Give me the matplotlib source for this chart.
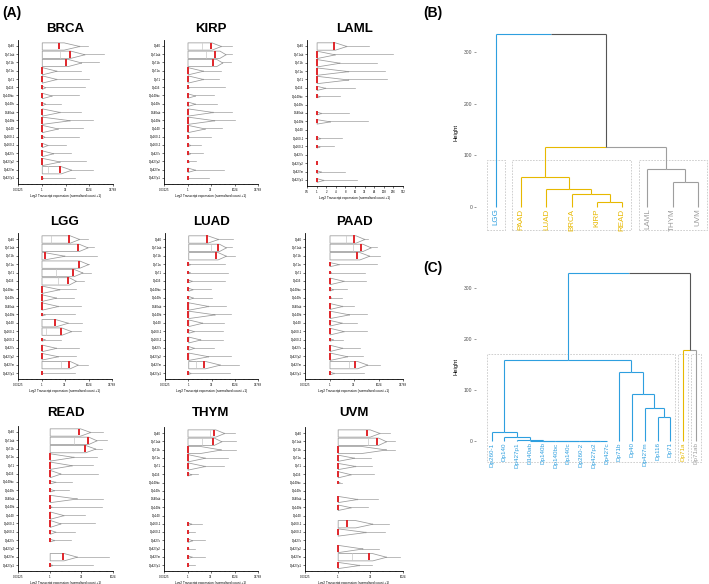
import numpy as np
import matplotlib
matplotlib.use("Agg")
import matplotlib.pyplot as plt

plt.rcParams['font.family'] = ['Liberation Sans', 'DejaVu Sans']

W_PX, H_PX = 709, 584

# ---------------- data: panel A (all values are log2 of normalised count + 1) ----------------
ISOFORMS = ["Dp40", "Dp71ab", "Dp71b", "Dp71a", "Dp71", "Dp116", "Dp140bc", "Dp140c",
            "D140ab", "Dp140b", "Dp140", "Dp260-1", "Dp260-2", "Dp427c", "Dp427p2",
            "Dp427m", "Dp427p1"]

CANCERS = ["BRCA", "KIRP", "LAML", "LGG", "LUAD", "PAAD", "READ", "THYM", "UVM"]

# median (red line)
MEDIAN = {
    "BRCA": [3.6, 5.9, 5.0, 0, 0, 0, 0, 0, 0, 0, 0, 0, 0, 0, 0, 3.9, 0],
    "KIRP": [4.9, 5.9, 5.4, 0, 0, 0, 0, 0, 0, 0, 0, 0, 0, 0, 0, 0, 0],
    "LAML": [1.8, 0, 0, 0, 0, 0, 0, 0, 0, 0, 0, 0, 0, 0, 0, 0, 0],
    "LGG":  [5.9, 7.7, 0.85, 7.9, 6.6, 5.6, 0, 0, 0, 0, 2.8, 4.1, 0, 0, 0, 5.9, 0],
    "LUAD": [4.0, 6.3, 5.9, 0, 0, 0, 0, 0, 0, 0, 0, 0, 0, 0, 0, 3.4, 0],
    "PAAD": [5.0, 6.5, 5.7, 0, 0, 0, 0, 0, 0, 0, 0, 0, 0, 0, 0, 5.3, 0],
    "READ": [4.6, 6.0, 5.5, 0, 0, 0, 0, 0, 0, 0, 0, 0, 0, 0, 0, 2.1, 0],
    "THYM": [5.7, 5.4, 0, 0, 0, 0, 0, 0, 0, 0, 0, 0, 0, 0, 0, 0, 0],
    "UVM":  [4.5, 6.0, 0, 0, 0, 0, 0, 0, 0, 0, 0, 1.45, 0, 0, 0, 4.8, 0],
}
# where the wide (boxy) part of the violin ends
BOX_END = {
    "BRCA": [4.6, 6.0, 5.4, 0, 0, 0, 0, 0, 0, 0, 0, 0, 0, 0, 0, 4.0, 0],
    "KIRP": [5.1, 6.8, 6.1, 0, 0, 0, 0, 0, 0, 0, 0, 0, 0, 0, 0, 0, 0],
    "LAML": [1.9, 0, 0, 0, 0, 0, 0, 0, 0, 0, 0, 0, 0, 0, 0, 0, 0],
    "LGG":  [6.0, 7.9, 0.5, 8.0, 6.8, 5.8, 0, 0, 0, 0, 2.9, 4.2, 0, 0, 0, 6.0, 0],
    "LUAD": [4.1, 6.6, 6.3, 0, 0, 0, 0, 0, 0, 0, 0, 0, 0, 0, 0, 3.6, 0],
    "PAAD": [5.3, 6.7, 6.1, 0, 0, 0, 0, 0, 0, 0, 0, 0, 0, 0, 0, 5.6, 0],
    "READ": [4.8, 6.1, 5.6, 0, 0, 0, 0, 0, 0, 0, 0, 0, 0, 0, 0, 2.2, 0],
    "THYM": [5.9, 5.6, 2.5, 0, 0, 0, 0, 0, 0, 0, 0, 0, 0, 0, 0, 0, 0],
    "UVM":  [4.9, 6.2, 3.5, 0, 0, 0, 0, 0, 0, 0, 0, 2.7, 0, 0, 0, 5.3, 0],
}
# where the violin body tapers into the tail (None = no data)
TAPER_END = {
    "BRCA": [7.9, 9.0, 8.3, 3.1, 3.1, 0.7, 2.1, 0.7, 3.8, 5.9, 3.4, 0.55, 1.2, 2.4, 3.8, 6.2, 0.3],
    "KIRP": [7.1, 8.1, 7.4, 3.3, 3.3, 0.3, 1.6, 1.6, 5.4, 5.7, 3.7, 0.3, 0.55, 0.55, 0.3, 1.6, 0.2],
    "LAML": [3.1, 1.9, 2.4, 3.3, 3.3, 0.9, 0.3, None, 0.45, 1.4, None, 0.35, 0.3, None, 0.05, 0.45, 0.7],
    "LGG":  [8.0, 9.8, 4.9, 9.9, 8.7, 7.3, 3.8, 3.1, 3.5, 0.7, 5.6, 6.3, 0.7, 3.1, 3.5, 7.7, 0.2],
    "LUAD": [6.4, 8.1, 8.1, 0.35, 0.35, 0.75, 0.9, 1.0, 4.3, 5.7, 3.0, 1.2, 2.6, 1.2, 4.3, 6.8, 0.5],
    "PAAD": [7.1, 8.4, 8.1, 1.9, 0.3, 2.9, 0.7, 0.3, 2.6, 4.0, 2.5, 2.9, 0.7, 2.6, 3.6, 7.7, 0.9],
    "READ": [6.4, 7.4, 7.2, 3.8, 3.5, 1.7, 0.9, 0.7, 4.3, 0.3, 2.2, 1.7, 0.9, 0.7, None, 4.3, 0.4],
    "THYM": [7.8, 7.2, 7.1, 3.7, 3.7, 0.8, None, None, None, None, None, 0.8, 0.2, 1.0, 0.2, 0.9, 0.2],
    "UVM":  [6.4, 7.4, 7.4, 2.5, 2.7, 2.0, 0.3, None, 3.0, 2.0, None, 5.3, 4.3, None, 3.8, 7.4, 3.3],
}
# maximum value (end of the tail)
MAX_VAL = {
    "BRCA": [9.8, 13.2, 12.1, 8.3, 9.9, 9.1, 7.9, 4.0, 8.3, 10.7, 8.6, 7.9, 5.2, 6.2, 9.3, 10.7, 6.9],
    "KIRP": [9.5, 9.5, 9.2, 7.1, 6.8, 7.9, 5.7, 6.2, 9.5, 10.2, 7.4, 4.9, 2.8, 3.3, 1.9, 7.7, 4.5],
    "LAML": [5.5, 8.0, 6.3, 7.1, 7.3, 4.0, 2.4, None, 3.4, 5.4, None, 2.6, 1.8, None, 0.05, 3.0, 4.2],
    "LGG":  [9.9, 11.2, 11.9, 10.1, 10.6, 9.1, 7.3, 7.0, 8.4, 7.1, 8.7, 8.4, 4.2, 8.0, 7.3, 9.8, 7.1],
    "LUAD": [9.7, 9.5, 10.1, 7.8, 8.5, 7.8, 4.9, 5.0, 8.1, 9.2, 7.7, 7.4, 7.4, 5.6, 9.2, 10.9, 9.0],
    "PAAD": [7.9, 9.6, 10.3, 9.6, 7.3, 7.5, 3.6, 2.6, 5.0, 7.6, 5.7, 7.6, 2.8, 6.2, 6.8, 10.3, 7.1],
    "READ": [8.4, 9.1, 8.2, 7.5, 6.9, 7.7, 3.5, 3.0, 8.4, 8.2, 5.6, 7.2, 4.0, 3.3, None, 9.4, 6.8],
    "THYM": [10.0, 10.4, 10.4, 8.6, 7.7, 2.3, None, None, None, None, None, 3.0, 1.6, 3.7, 1.7, 3.7, 1.6],
    "UVM":  [8.0, 8.7, 8.7, 5.1, 5.3, 5.6, 0.7, None, 6.1, 4.6, None, 7.8, 7.2, None, 6.4, 9.5, 5.3],
}
# relative violin width (1 = full row)
WIDTH = {
    "BRCA": [1, 1, 1, 1, 1, 0.45, 0.75, 0.45, 1, 1, 1, 0.4, 0.6, 0.8, 1, 1, 0.1],
    "KIRP": [1, 1, 1, 1, 1, 0.15, 0.6, 0.6, 1, 1, 1, 0.3, 0.35, 0.35, 0.2, 0.6, 0.05],
    "LAML": [1, 1, 1, 1, 1, 0.55, 0.3, 0, 0.4, 0.6, 0, 0.35, 0.3, 0, 0.1, 0.35, 0.5],
    "LGG":  [1, 1, 1, 1, 1, 1, 1, 0.9, 1, 0.3, 1, 1, 0.35, 0.9, 0.9, 1, 0.08],
    "LUAD": [1, 1, 1, 0.2, 0.2, 0.35, 0.4, 0.45, 1, 1, 0.9, 0.45, 0.8, 0.5, 1, 1, 0.25],
    "PAAD": [1, 1, 1, 0.55, 0.12, 0.9, 0.35, 0.15, 0.8, 1, 0.75, 0.9, 0.35, 0.85, 1, 1, 0.35],
    "READ": [1, 1, 1, 1, 1, 1, 0.4, 0.35, 1, 0.2, 1, 0.95, 0.55, 0.35, 0, 1, 0.25],
    "THYM": [1, 1, 1, 1, 1, 0.35, 0, 0, 0, 0, 0, 0.35, 0.15, 0.45, 0.15, 0.35, 0.1],
    "UVM":  [1, 1, 1, 0.85, 0.85, 0.85, 0.15, 0, 0.85, 0.75, 0, 1, 1, 0, 1, 1, 0.85],
}
# lower quartile line inside the violin (None = not visible)
QUART = {
    "BRCA": [None, 3.8, None] + [None] * 12 + [1.4, None],
    "KIRP": [3.0, 4.0, None] + [None] * 14,
    "LAML": [None] * 17,
    "LGG":  [2.1, None, None, None, 3.1, 3.5, None, None, None, None, None, 1.0, None, None, None, 4.1, None],
    "LUAD": [None, 4.9, None] + [None] * 12 + [1.6, None],
    "PAAD": [3.3, 4.7, None] + [None] * 12 + [4.0, None],
    "READ": [None, 3.8, None] + [None] * 14,
    "THYM": [4.7, 3.0, None] + [None] * 14,
    "UVM":  [None, 4.6, None] + [None] * 12 + [2.2, None],
}

# x-axis range (log2) and tick powers for each panel
XRANGE = {"BRCA": (-5, 15), "KIRP": (-5, 15), "LAML": (-1, 9), "LGG": (-5, 15), "LUAD": (-5, 15),
          "PAAD": (-5, 15), "READ": (-5, 10), "THYM": (-5, 15), "UVM": (-5, 10)}
XTICKS = {"BRCA": [-5, 0, 5, 10, 15], "KIRP": [-5, 0, 5, 10, 15], "LAML": list(range(-1, 10)),
          "LGG": [-5, 0, 5, 10, 15], "LUAD": [-5, 0, 5, 10, 15], "PAAD": [-5, 0, 5, 10, 15],
          "READ": [-5, 0, 5, 10], "THYM": [-5, 0, 5, 10, 15], "UVM": [-5, 0, 5, 10]}

# panel boxes in pixels: left, row0 y, right, last row y
PANEL_PX = {
    "BRCA": (18, 46, 113, 178), "KIRP": (164, 46, 258, 178), "LAML": (307, 46, 403, 180),
    "LGG": (18, 239, 112, 373), "LUAD": (165, 239, 258, 373), "PAAD": (305, 239, 403, 373),
    "READ": (18, 432, 113, 565), "THYM": (164, 433, 258, 565), "UVM": (305, 433, 403, 565),
}
TITLE_Y = {"BRCA": 29, "KIRP": 29, "LAML": 29, "LGG": 222, "LUAD": 222, "PAAD": 222,
           "READ": 413, "THYM": 413, "UVM": 413}

# ---------------- data: panel B dendrogram ----------------
B_LEAVES = ["LGG", "PAAD", "LUAD", "BRCA", "KIRP", "READ", "LAML", "THYM", "UVM"]
B_CLUSTER = [0, 1, 1, 1, 1, 1, 2, 2, 2]
# (left child, right child, height); new nodes are numbered after the leaves
B_MERGES = [(4, 5, 10), (3, 9, 26), (2, 10, 35.5), (1, 11, 59), (7, 8, 48),
            (6, 13, 73), (12, 14, 116), (0, 15, 334)]
B_RECTS = [(0, 0), (1, 5), (6, 8)]
B_RECT_Y = (-44, 90)

# ---------------- data: panel C dendrogram ----------------
C_LEAVES = ["Dp260-1", "Dp140", "Dp427p1", "D140ab", "Dp140b", "Dp140bc", "Dp140c", "Dp260-2",
            "Dp427p2", "Dp427c", "Dp71b", "Dp40", "Dp427m", "Dp116", "Dp71", "Dp71a", "Dp71ab"]
C_CLUSTER = [0] * 15 + [1, 2]
C_MERGES = [(8, 9, 0.1), (7, 17, 0.15), (6, 18, 0.2), (5, 19, 0.25), (4, 20, 0.3), (3, 21, 0.4),
            (2, 22, 1.3), (1, 23, 7.2), (0, 24, 18.3), (13, 14, 47.7), (12, 26, 64),
            (11, 27, 91.5), (10, 28, 136), (25, 29, 159), (15, 16, 178), (30, 31, 330)]
C_RECTS = [(0, 14), (15, 15), (16, 16)]
C_RECT_Y = (-42, 170)

CLUSTER_COLORS = ["#2E9FDF", "#E7B800", "#9E9E9E"]
MIXED_COLOR = "#555555"


def px_axes(fig, l, t, r, b):
    return fig.add_axes([l / W_PX, 1 - b / H_PX, (r - l) / W_PX, (b - t) / H_PX])


def draw_violin(ax, y, box_end, taper_end, vmax, width, med, q):
    if taper_end is None:
        return
    hw = 0.44 * width
    xs = [0.0]
    hs = [hw]
    if box_end > 0:
        xs.append(box_end)
        hs.append(hw)
    start = max(box_end, 0.0)
    t = np.linspace(start, max(taper_end, start + 0.05), 40)
    u = (t - start) / (t[-1] - start)
    xs += list(t)
    hs += list(np.maximum(hw * (1 - u), 0.03))
    xs = np.array(xs)
    hs = np.array(hs)
    ax.plot(2.0 ** np.array([taper_end, vmax]), [y, y], color="#A0A0A0", lw=0.5, zorder=1)
    ax.fill_between(2.0 ** xs, y - hs, y + hs, facecolor="white", edgecolor="#9A9A9A",
                    lw=0.55, zorder=2)
    if q is not None:
        ax.plot([2.0 ** q] * 2, [y - hw * 0.95, y + hw * 0.95], color="#C8C8C8", lw=0.5, zorder=3)
    mh = max(hw * 0.95, 0.22)
    ax.plot([2.0 ** med] * 2, [y - mh, y + mh], color="#E0262B", lw=1.4, zorder=4,
            solid_capstyle="butt")


def draw_dend(ax, n, merges, cluster, label_names, label_size):
    pos = list(np.arange(1, n + 1, dtype=float))
    hgt = [0.0] * n
    col = [CLUSTER_COLORS[c] for c in cluster]
    for a, b, h in merges:
        p = (pos[a] + pos[b]) / 2
        c = col[a] if col[a] == col[b] else MIXED_COLOR
        for ch in (a, b):
            ax.plot([p, pos[ch]], [h, h], color=col[ch], lw=0.8, solid_capstyle="butt")
            ax.plot([pos[ch], pos[ch]], [h, hgt[ch]], color=col[ch], lw=0.8, solid_capstyle="butt")
        pos.append(p)
        hgt.append(h)
        col.append(c)
    for i, name in enumerate(label_names):
        ax.text(i + 1, -3, name, rotation=90, ha="center", va="top", fontsize=label_size,
                color=CLUSTER_COLORS[cluster[i]])


def style_dend(ax, ylim, xlim):
    ax.set_ylim(*ylim)
    ax.set_xlim(*xlim)
    for s in ax.spines.values():
        s.set_visible(False)
    ax.set_xticks([])
    ax.set_yticks([0, 100, 200, 300])
    ax.tick_params(axis="y", labelsize=3.6, colors="#4D4D4D", length=1.5, width=0.4, pad=1)
    ax.set_ylabel("Height", fontsize=4.2, labelpad=4)


fig = plt.figure(figsize=(W_PX / 100, H_PX / 100), dpi=100)

# ---------------- panel A ----------------
for cancer in CANCERS:
    l, r0, r, r16 = PANEL_PX[cancer]
    s = (r16 - r0) / 16
    ax = px_axes(fig, l, r0 - 0.75 * s, r, r16 + 0.75 * s)
    ax.set_xscale("log", base=2)
    for i in range(len(ISOFORMS)):
        draw_violin(ax, i, BOX_END[cancer][i], TAPER_END[cancer][i], MAX_VAL[cancer][i],
                    WIDTH[cancer][i], MEDIAN[cancer][i], QUART[cancer][i])
    lo, hi = XRANGE[cancer]
    ax.set_xlim(2.0 ** lo, 2.0 ** hi)
    ax.set_ylim(16.75, -0.75)
    ticks = XTICKS[cancer]
    ax.set_xticks([2.0 ** k for k in ticks])
    ax.set_xticklabels([("%g" % (2.0 ** k)) for k in ticks])
    ax.set_xticks([2.0 ** k for k in range(lo, hi + 1)], minor=True)
    ax.xaxis.set_minor_formatter(plt.NullFormatter())
    ax.set_yticks(range(len(ISOFORMS)))
    ax.set_yticklabels(ISOFORMS)
    ax.tick_params(axis="both", labelsize=2.1, length=1.5, width=0.4, pad=1)
    ax.tick_params(axis="x", which="minor", length=0.8, width=0.3)
    for side in ("top", "right"):
        ax.spines[side].set_visible(False)
    for side in ("left", "bottom"):
        ax.spines[side].set_linewidth(0.6)
    ax.set_xlabel("Log2 Transcript expression (normalised count +1)", fontsize=2.3, labelpad=1.5)
    fig.text((l + r) / 2 / W_PX, 1 - TITLE_Y[cancer] / H_PX, cancer, ha="center", va="center",
             fontsize=9.5, fontweight="bold")

# ---------------- panel B ----------------
axb = px_axes(fig, 476, 25, 709, 240)
draw_dend(axb, len(B_LEAVES), B_MERGES, B_CLUSTER, B_LEAVES, 5.8)
for a, b in B_RECTS:
    axb.add_patch(plt.Rectangle((a + 1 - 0.35, B_RECT_Y[0]), b - a + 0.7, B_RECT_Y[1] - B_RECT_Y[0],
                                fill=False, edgecolor="#C8C8C8", lw=0.6, ls=(0, (2, 1.5))))
style_dend(axb, (-63.8, 352), (0.21, 9.44))

# ---------------- panel C ----------------
axc = px_axes(fig, 476, 262, 709, 470)
draw_dend(axc, len(C_LEAVES), C_MERGES, C_CLUSTER, C_LEAVES, 4.5)
for a, b in C_RECTS:
    axc.add_patch(plt.Rectangle((a + 1 - 0.38, C_RECT_Y[0]), b - a + 0.76, C_RECT_Y[1] - C_RECT_Y[0],
                                fill=False, edgecolor="#C8C8C8", lw=0.6, ls=(0, (2, 1.5))))
style_dend(axc, (-57, 351), (-0.23, 18.02))

# panel letters
fig.text(2 / W_PX, 1 - 13 / H_PX, "(A)", fontsize=10, fontweight="bold", va="center")
fig.text(423 / W_PX, 1 - 13 / H_PX, "(B)", fontsize=10, fontweight="bold", va="center")
fig.text(423 / W_PX, 1 - 268 / H_PX, "(C)", fontsize=10, fontweight="bold", va="center")

fig.savefig("out.png", dpi=100)
